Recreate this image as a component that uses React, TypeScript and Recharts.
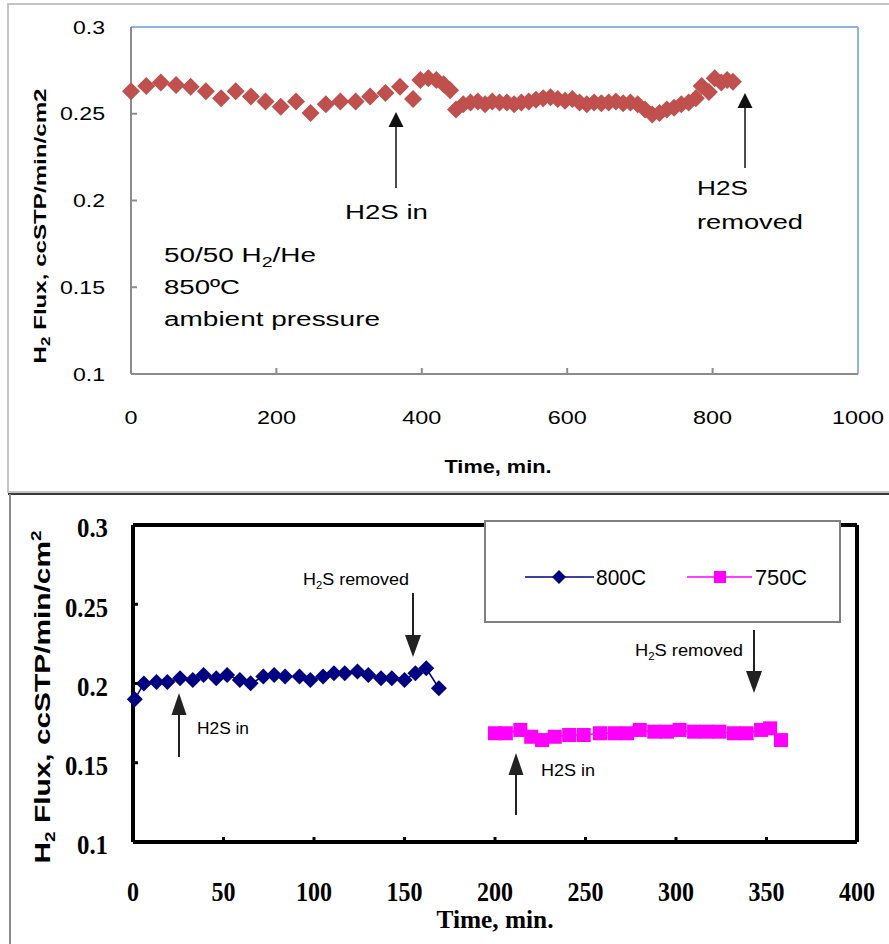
import React from "react";
import { ScatterChart, Scatter, XAxis, YAxis, ReferenceLine } from "recharts";

// top panel: 850C run
const topTime = [
  0, 21, 41, 62, 82, 103, 124, 144, 165, 185, 206, 227, 247, 268, 288, 309, 329, 350, 370, 388,
  398, 409, 420, 430, 439, 447, 457, 467, 477, 487, 497, 507, 517, 527, 537, 547, 557, 567, 577,
  587, 597, 607, 617, 627, 637, 647, 657, 667, 677, 687, 697, 707, 717, 727, 737, 747, 757, 767,
  777, 785, 795, 803, 812, 820, 828,
];
const topFlux = [
  0.263, 0.266, 0.268, 0.2665, 0.2655, 0.263, 0.259, 0.263, 0.26, 0.257, 0.254, 0.257, 0.2505,
  0.2555, 0.257, 0.257, 0.26, 0.262, 0.2655, 0.2585, 0.2695, 0.2705, 0.2695, 0.267, 0.2635, 0.2525,
  0.2555, 0.2565, 0.257, 0.2555, 0.257, 0.2565, 0.2565, 0.2555, 0.2565, 0.257, 0.258, 0.259, 0.2595,
  0.2585, 0.2575, 0.2585, 0.2565, 0.2555, 0.2565, 0.256, 0.2565, 0.257, 0.256, 0.2565, 0.2555,
  0.2525, 0.2495, 0.2505, 0.2525, 0.2535, 0.2555, 0.2565, 0.259, 0.266, 0.2625, 0.2705, 0.268,
  0.2695, 0.2685,
];

// bottom panel
const time800 = [1, 6, 13, 19, 26, 33, 39, 46, 52, 59, 65, 72, 78, 84, 92, 98, 105, 111, 117, 124, 130, 137, 143, 150, 156, 162, 169];
const flux800 = [
  0.19, 0.2, 0.201, 0.201, 0.2033, 0.2022, 0.2054, 0.2033, 0.2054, 0.2022, 0.2001, 0.2044, 0.2054,
  0.2044, 0.2044, 0.2022, 0.2044, 0.2064, 0.2064, 0.2075, 0.2054, 0.2033, 0.2033, 0.2022, 0.2064,
  0.2096, 0.197,
];
const time750 = [200, 206, 214, 220, 226, 233, 241, 249, 258, 266, 273, 280, 288, 295, 302, 310, 317, 324, 332, 339, 347, 352, 358];
const flux750 = [
  0.1686, 0.1686, 0.1707, 0.1664, 0.1643, 0.1664, 0.1675, 0.1675, 0.1686, 0.1686, 0.1686, 0.1707,
  0.1696, 0.1696, 0.1707, 0.1696, 0.1696, 0.1696, 0.1686, 0.1686, 0.1707, 0.1717, 0.1643,
];

const topXTicks = [0, 200, 400, 600, 800, 1000];
const bottomXTicks = [0, 50, 100, 150, 200, 250, 300, 350, 400];
const yTicks = [0.1, 0.15, 0.2, 0.25, 0.3];

const topData = topTime.map((t, i) => ({ t, flux: topFlux[i] }));
const data800 = time800.map((t, i) => ({ t, flux: flux800[i] }));
const data750 = time750.map((t, i) => ({ t, flux: flux750[i] }));

const SANS = "'Liberation Sans', Arial, sans-serif";
const SERIF = "'Liberation Serif', 'Times New Roman', serif";

const labelWidth = (s: string, digit: number, dot: number) =>
  s.split("").reduce((w, c) => w + (c === "." ? dot : digit), 0);

function xTick(offset: number, inner: number[], o: any) {
  return (props: any) => {
    const { x, y, payload } = props;
    const s = String(payload.value);
    const axisY = y - offset;
    return (
      <g>
        {inner.includes(payload.value) && (
          <line x1={x} x2={x} y1={axisY} y2={axisY - o.len} stroke={o.tickColor} strokeWidth={o.tickWidth} />
        )}
        <text x={x} y={y} dy="0.35em" textAnchor="middle" fontFamily={o.font} fontWeight={o.weight}
          fontSize={o.size} fill="#000" textLength={labelWidth(s, o.digit, o.dot)} lengthAdjust="spacingAndGlyphs">
          {s}
        </text>
      </g>
    );
  };
}

function yTick(offset: number, inner: number[], o: any) {
  return (props: any) => {
    const { x, y, payload } = props;
    const s = String(payload.value);
    const axisX = x + offset;
    return (
      <g>
        {inner.includes(payload.value) && (
          <line x1={axisX} x2={axisX + o.len} y1={y} y2={y} stroke={o.tickColor} strokeWidth={o.tickWidth} />
        )}
        <text x={x} y={y + o.shift} dy="0.35em" textAnchor="end" fontFamily={o.font} fontWeight={o.weight}
          fontSize={o.size} fill="#000" textLength={labelWidth(s, o.digit, o.dot)} lengthAdjust="spacingAndGlyphs">
          {s}
        </text>
      </g>
    );
  };
}

const diamond = (fill: string, r: number) => (p: any) => (
  <polygon points={`${p.cx},${p.cy - r} ${p.cx + r},${p.cy} ${p.cx},${p.cy + r} ${p.cx - r},${p.cy}`} fill={fill} />
);
const square = (fill: string, h: number) => (p: any) => (
  <rect x={p.cx - h} y={p.cy - h} width={h * 2} height={h * 2} fill={fill} />
);

function Arrow({ x, tail, tip, w, h, color = "#111", sw = 1.5 }: any) {
  const dir = tip < tail ? 1 : -1;
  return (
    <g>
      <line x1={x} x2={x} y1={tail} y2={tip + dir * h} stroke={color} strokeWidth={sw} />
      <polygon points={`${x},${tip} ${x - w / 2},${tip + dir * h} ${x + w / 2},${tip + dir * h}`} fill={color} />
    </g>
  );
}

function T({ x, y, w, size, children, font = SANS, weight = "normal", anchor = "start", rotate }: any) {
  return (
    <text x={x} y={y} dy="0.35em" fontFamily={font} fontWeight={weight} fontSize={size} textAnchor={anchor}
      textLength={w} lengthAdjust="spacingAndGlyphs" fill="#000"
      transform={rotate ? `rotate(-90 ${x} ${y})` : undefined}>
      {children}
    </text>
  );
}

export default function App() {
  const topTickStyle = { font: SANS, weight: "normal", size: 19, digit: 13, dot: 6, len: 6, tickColor: "#8c8c8c", tickWidth: 2, shift: 0 };
  const botTickStyle = { font: SERIF, weight: "bold", size: 27, digit: 12, dot: 7, len: 5, tickColor: "#000", tickWidth: 3, shift: 3 };

  return (
    <div style={{ position: "absolute", left: 0, top: 0, width: 889, height: 944, background: "#fff", overflow: "hidden" }}>
      <div style={{ position: "absolute", left: 0, top: 0 }}>
        <ScatterChart width={889} height={490} margin={{ top: 27, right: 31, left: 61, bottom: 56 }}>
          <XAxis type="number" dataKey="t" domain={[0, 1000]} ticks={topXTicks} interval={0}
            axisLine={{ stroke: "#8c8c8c", strokeWidth: 2 }} tickLine={false} tickSize={0} tickMargin={43} height={60}
            tick={xTick(43, [200, 400, 600, 800], topTickStyle)} />
          <YAxis type="number" dataKey="flux" domain={[0.1, 0.3]} ticks={yTicks} interval={0} width={70}
            axisLine={{ stroke: "#8c8c8c", strokeWidth: 2 }} tickLine={false} tickSize={0} tickMargin={26}
            tick={yTick(26, [0.15, 0.2, 0.25], topTickStyle)} />
          <ReferenceLine y={0.3} stroke="#8db4e2" strokeWidth={2} />
          <ReferenceLine x={1000} stroke="#8db4e2" strokeWidth={2} />
          <Scatter data={topData} fill="#c0504d" shape={diamond("#c0504d", 9)} isAnimationActive={false} />
        </ScatterChart>
      </div>

      <div style={{ position: "absolute", left: 0, top: 490 }}>
        <ScatterChart width={889} height={454} margin={{ top: 35, right: 32, left: 63, bottom: 42 }}>
          <XAxis type="number" dataKey="t" domain={[0, 400]} ticks={bottomXTicks} interval={0}
            axisLine={{ stroke: "#000", strokeWidth: 4 }} tickLine={false} tickSize={0} tickMargin={50} height={60}
            tick={xTick(50, [50, 100, 150, 200, 250, 300, 350], botTickStyle)} />
          <YAxis type="number" dataKey="flux" domain={[0.1, 0.3]} ticks={yTicks} interval={0} width={70}
            axisLine={{ stroke: "#000", strokeWidth: 4 }} tickLine={false} tickSize={0} tickMargin={25}
            tick={yTick(25, [0.15, 0.2, 0.25], botTickStyle)} />
          <ReferenceLine y={0.3} stroke="#000" strokeWidth={4} />
          <ReferenceLine x={400} stroke="#000" strokeWidth={4} />
          <Scatter data={data800} name="800C" fill="#000080" line={{ stroke: "#000080", strokeWidth: 1.5 }}
            lineType="joint" shape={diamond("#000080", 8)} isAnimationActive={false} />
          <Scatter data={data750} name="750C" fill="#ff00ff" line={{ stroke: "#ff00ff", strokeWidth: 1.5 }}
            lineType="joint" shape={square("#ff00ff", 7)} isAnimationActive={false} />
        </ScatterChart>
      </div>

      <svg width={889} height={944} style={{ position: "absolute", left: 0, top: 0, pointerEvents: "none" }}>
        {/* panel frames */}
        <rect x={8} y={4} width={900} height={488} fill="none" stroke="#c4c4c4" strokeWidth={2} />
        <line x1={8} x2={889} y1={494} y2={494} stroke="#3a3a3a" strokeWidth={2} />
        <line x1={10} x2={10} y1={494} y2={944} stroke="#8a8a8a" strokeWidth={2} />

        {/* top panel text */}
        <T x={40} y={226} w={275} size={17} weight="bold" anchor="middle" rotate>
          H<tspan fontSize={12} dy={4}>2</tspan><tspan dy={-4}> Flux, ccSTP/min/cm2</tspan>
        </T>
        <T x={498} y={467} w={107} size={18} weight="bold" anchor="middle">Time, min.</T>
        <T x={345} y={212} w={83} size={21}>H2S in</T>
        <T x={697} y={188} w={51} size={21}>H2S</T>
        <T x={697} y={222} w={106} size={21}>removed</T>
        <T x={164} y={255} w={152} size={20}>
          50/50 H<tspan fontSize={14} dy={5}>2</tspan><tspan dy={-5}>/He</tspan>
        </T>
        <T x={164} y={287} w={76} size={20}>850ºC</T>
        <T x={164} y={319} w={216} size={20}>ambient pressure</T>
        <Arrow x={396} tail={188} tip={112} w={15} h={15} />
        <Arrow x={745} tail={168} tip={93} w={15} h={15} />

        {/* bottom panel text */}
        <T x={42} y={697} w={333} size={22} weight="bold" anchor="middle" rotate>
          H<tspan fontSize={14} dy={5}>2</tspan><tspan dy={-5}> Flux, ccSTP/min/cm</tspan><tspan fontSize={14} dy={-9}>2</tspan>
        </T>
        <T x={495} y={919} w={117} size={25} weight="bold" font={SERIF} anchor="middle">Time, min.</T>
        <T x={303} y={579} w={106} size={16}>
          H<tspan fontSize={10} dy={4}>2</tspan><tspan dy={-4}>S removed</tspan>
        </T>
        <T x={197} y={728} w={52} size={16}>H2S in</T>
        <T x={635} y={650} w={108} size={16}>
          H<tspan fontSize={10} dy={4}>2</tspan><tspan dy={-4}>S removed</tspan>
        </T>
        <T x={541} y={770} w={54} size={16}>H2S in</T>
        <Arrow x={413} tail={593} tip={657} w={16} h={22} color="#222" sw={2} />
        <Arrow x={179} tail={757} tip={693} w={15} h={22} color="#222" sw={2} />
        <Arrow x={754} tail={630} tip={693} w={16} h={22} color="#222" sw={2} />
        <Arrow x={516} tail={815} tip={753} w={15} h={22} color="#222" sw={2} />

        {/* legend */}
        <rect x={485} y={521} width={355} height={101} fill="#fff" stroke="#808080" strokeWidth={2} />
        <line x1={525} x2={594} y1={577} y2={577} stroke="#000080" strokeWidth={1.5} />
        <polygon points="559,570 566,577 559,584 552,577" fill="#000080" />
        <T x={596} y={577} w={50} size={22}>800C</T>
        <line x1={687} x2={752} y1={577} y2={577} stroke="#ff00ff" strokeWidth={1.5} />
        <rect x={714} y={571} width={12} height={12} fill="#ff00ff" />
        <T x={755} y={577} w={52} size={22}>750C</T>
      </svg>
    </div>
  );
}
